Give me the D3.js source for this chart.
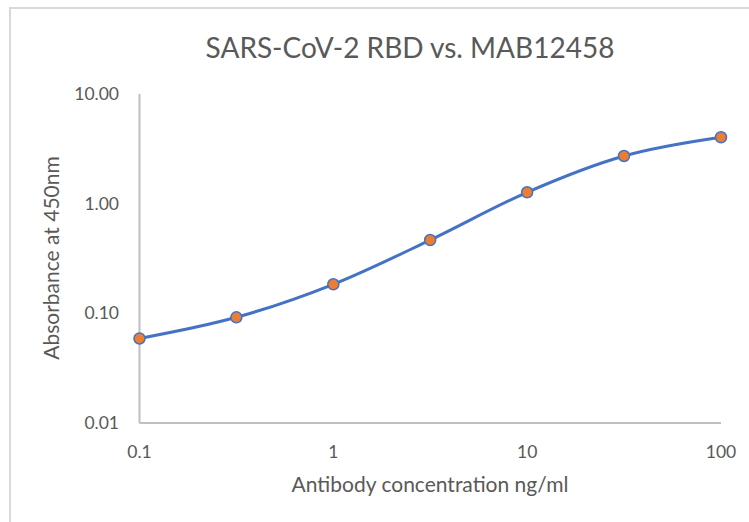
<!DOCTYPE html>
<html>
<head>
<meta charset="utf-8">
<script src="https://cdn.jsdelivr.net/npm/d3@7"></script>
<style>
  body { margin: 0; background: #fff; }
  text { font-family: Lato, "Open Sans", sans-serif; fill: #595959; }
</style>
</head>
<body>
<div id="chart"></div>
<script>
// concentrations (ng/ml) and absorbance at 450nm
var conc = [0.1, 0.316, 1, 3.16, 10, 31.6, 100];
var absorb = [0.059, 0.092, 0.184, 0.466, 1.27, 2.72, 4.03];

var xTicks = [0.1, 1, 10, 100];
var xTickLabels = ["0.1", "1", "10", "100"];
var yTicks = [0.01, 0.1, 1, 10];
var yTickLabels = ["0.01", "0.10", "1.00", "10.00"];

var width = 749,
  height = 522;

var svg = d3.select('#chart').append('svg')
  .attr('width', width)
  .attr('height', height);

// chart frame (only top and left edges show)
svg.append("path")
  .attr("d", "M10,522 L10,8 L749,8")
  .style("fill", "none")
  .style("stroke", "#d9d9d9")
  .style("stroke-width", 2);

var x = d3.scaleLog().domain([0.1, 100]).range([139.5, 721]);
var y = d3.scaleLog().domain([0.01, 10]).range([423, 94]);

// axis lines
svg.append("line")
  .attr("x1", x(0.1)).attr("y1", y(10))
  .attr("x2", x(0.1)).attr("y2", y(0.01))
  .style("stroke", "#bfbfbf")
  .style("stroke-width", 2);

svg.append("line")
  .attr("x1", x(0.1)).attr("y1", y(0.01))
  .attr("x2", x(100)).attr("y2", y(0.01))
  .style("stroke", "#bfbfbf")
  .style("stroke-width", 2);

svg.selectAll(".ytick")
  .data(yTicks)
  .enter().append("text")
  .attr("class", "ytick")
  .attr("x", 119)
  .attr("y", function(d) { return y(d); })
  .attr("dy", "0.35em")
  .attr("text-anchor", "end")
  .style("font-size", "17.5px")
  .text(function(d, i) { return yTickLabels[i]; });

svg.selectAll(".xtick")
  .data(xTicks)
  .enter().append("text")
  .attr("class", "xtick")
  .attr("x", function(d) { return x(d); })
  .attr("y", 458)
  .attr("text-anchor", "middle")
  .style("font-size", "17.5px")
  .text(function(d, i) { return xTickLabels[i]; });

// titles
svg.append("text")
  .text("SARS-CoV-2 RBD vs. MAB12458")
  .attr("x", 410)
  .attr("y", 58)
  .attr("text-anchor", "middle")
  .style("font-size", "28px");

svg.append("text")
  .text("Antibody concentration ng/ml")
  .attr("x", 430)
  .attr("y", 492)
  .attr("text-anchor", "middle")
  .style("font-size", "21px");

svg.append("text")
  .text("Absorbance at 450nm")
  .attr("transform", "translate(59,258) rotate(-90)")
  .attr("text-anchor", "middle")
  .style("font-size", "21px");

// smoothed series line
var line = d3.line()
  .x(function(d) { return x(d[0]); })
  .y(function(d) { return y(d[1]); })
  .curve(d3.curveCardinal.tension(0));

var pts = d3.zip(conc, absorb);

svg.append("path")
  .datum(pts)
  .attr("d", line)
  .style("fill", "none")
  .style("stroke", "#4472c4")
  .style("stroke-width", 3)
  .style("stroke-linecap", "round");

svg.selectAll(".dot")
  .data(pts)
  .enter().append("circle")
  .attr("class", "dot")
  .attr("cx", function(d) { return x(d[0]); })
  .attr("cy", function(d) { return y(d[1]); })
  .attr("r", 5.5)
  .style("fill", "#ed7d31")
  .style("stroke", "#4472c4")
  .style("stroke-width", 1.5);
</script>
</body>
</html>
